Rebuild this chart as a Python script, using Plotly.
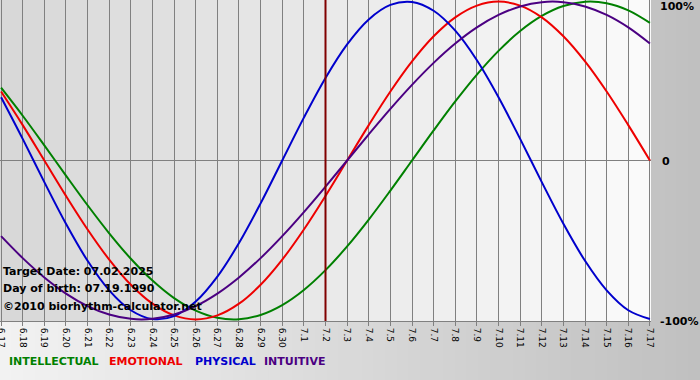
import plotly.graph_objects as go

# ---- data ----
dates = ["6.17", "6.18", "6.19", "6.20", "6.21", "6.22", "6.23", "6.24", "6.25", "6.26",
         "6.27", "6.28", "6.29", "6.30", "7.1", "7.2", "7.3", "7.4", "7.5", "7.6",
         "7.7", "7.8", "7.9", "7.10", "7.11", "7.12", "7.13", "7.14", "7.15", "7.16", "7.17"]

physical = [0.3984, 0.1362, -0.1362, -0.3984, -0.6311, -0.8170, -0.9423, -0.9977, -0.9791, -0.8879,
            -0.7308, -0.5196, -0.2698, 0.0, 0.2698, 0.5196, 0.7308, 0.8879, 0.9791, 0.9977,
            0.9423, 0.8170, 0.6311, 0.3984, 0.1362, -0.1362, -0.3984, -0.6311, -0.8170, -0.9423, -0.9977]

emotional = [0.4339, 0.2225, 0.0, -0.2225, -0.4339, -0.6235, -0.7818, -0.9010, -0.9749, -1.0,
             -0.9749, -0.9010, -0.7818, -0.6235, -0.4339, -0.2225, 0.0, 0.2225, 0.4339, 0.6235,
             0.7818, 0.9010, 0.9749, 1.0, 0.9749, 0.9010, 0.7818, 0.6235, 0.4339, 0.2225, 0.0]

intellectual = [0.4582, 0.2817, 0.0951, -0.0951, -0.2817, -0.4582, -0.6182, -0.7557, -0.8660, -0.9450,
                -0.9898, -0.9989, -0.9718, -0.9096, -0.8146, -0.6901, -0.5406, -0.3717, -0.1893, 0.0,
                0.1893, 0.3717, 0.5406, 0.6901, 0.8146, 0.9096, 0.9718, 0.9989, 0.9898, 0.9450, 0.8660]

intuitive = [-0.4759, -0.6142, -0.7357, -0.8372, -0.9158, -0.9694, -0.9966, -0.9966, -0.9694, -0.9158,
             -0.8372, -0.7357, -0.6142, -0.4759, -0.3247, -0.1646, 0.0, 0.1646, 0.3247, 0.4759,
             0.6142, 0.7357, 0.8372, 0.9158, 0.9694, 0.9966, 0.9966, 0.9694, 0.9158, 0.8372, 0.7357]

target_label = "7.2"
y_labels = ["100%", "0", "-100%"]
info_lines = ["Target Date: 07.02.2025", "Day of birth: 07.19.1990", "©2010 biorhythm-calculator.net"]
legend_names = ["INTELLECTUAL", "EMOTIONAL", "PHYSICAL", "INTUITIVE"]

# ---- styling ----
C_INT = "#008000"
C_EMO = "#ee0000"
C_PHY = "#0000cc"
C_ITU = "#4b0082"
FONT = "DejaVu Sans"

W, H = 700, 380
ML, MR, MT, MB = 0, 49, 0, 59
PW, PH = W - ML - MR, H - MT - MB

xs = list(range(len(dates)))
fig = go.Figure()
for vals, col, name in [(intellectual, C_INT, "INTELLECTUAL"), (emotional, C_EMO, "EMOTIONAL"),
                        (physical, C_PHY, "PHYSICAL"), (intuitive, C_ITU, "INTUITIVE")]:
    fig.add_trace(go.Scatter(x=xs, y=vals, mode="lines", name=name,
                             line=dict(color=col, width=2, shape="spline", smoothing=1.0),
                             hoverinfo="skip"))

shapes = []
# paper gradient (light left -> gray right)
n_strips = 60
for k in range(n_strips):
    x0 = k / n_strips * W / PW
    x1 = (k + 1) / n_strips * W / PW + 0.002
    v = int(round(242 - (242 - 192) * k / (n_strips - 1)))
    shapes.append(dict(type="rect", xref="paper", yref="paper", x0=x0, x1=x1,
                       y0=-MB / PH, y1=1.0, fillcolor=f"rgb({v},{v},{v})",
                       line=dict(width=0), layer="below"))
# plot area gradient (gray left -> white right), stepped per day band
xmin, xmax = -0.05, 30.05
edges = [xmin] + [i + 0.0 for i in range(1, 30)] + [xmax]
nb = len(edges) - 1
for k in range(nb):
    v = int(round(216 + (250 - 216) * k / (nb - 1)))
    shapes.append(dict(type="rect", xref="x", yref="y", x0=edges[k], x1=edges[k + 1],
                       y0=-1.2, y1=1.2, fillcolor=f"rgb({v},{v},{v})",
                       line=dict(width=0), layer="below"))
# target date line
ti = dates.index(target_label)
shapes.append(dict(type="line", xref="x", yref="paper", x0=ti, x1=ti, y0=0, y1=1,
                   line=dict(color="#800000", width=2), layer="above"))

annotations = []
for txt, py in zip(y_labels, [6, 162, 321]):
    annotations.append(dict(text=txt, xref="paper", yref="paper", x=1, y=1 - py / PH,
                            xanchor="left", yanchor="middle", xshift=7 if txt != "0" else 9,
                            showarrow=False,
                            font=dict(family=FONT, size=11, color="#000000", weight="bold")))
for txt, py in zip(info_lines, [271, 288, 306]):
    annotations.append(dict(text=txt, xref="paper", yref="paper", x=0, y=1 - py / PH,
                            xanchor="left", yanchor="middle", xshift=1, showarrow=False,
                            font=dict(family=FONT, size=11, color="#000000", weight="bold")))
for txt, col, px in zip(legend_names, [C_INT, C_EMO, C_PHY, C_ITU], [7, 107, 193, 262]):
    annotations.append(dict(text=txt, xref="paper", yref="paper", x=px / PW, y=1 - 361 / PH,
                            xanchor="left", yanchor="middle", showarrow=False,
                            font=dict(family=FONT, size=11, color=col, weight="bold")))

fig.update_layout(
    width=W, height=H, margin=dict(l=ML, r=MR, t=MT, b=MB, pad=0, autoexpand=False),
    paper_bgcolor="#d8d8d8", plot_bgcolor="rgba(0,0,0,0)",
    showlegend=False, shapes=shapes, annotations=annotations,
    font=dict(family=FONT, color="#000000"),
    xaxis=dict(range=[xmin, xmax], tickmode="array", tickvals=xs, ticktext=dates,
               tickangle=90, ticks="outside", ticklen=4, tickcolor="#808080",
               tickfont=dict(family=FONT, size=9, color="#000000"),
               ticklabeloverflow="allow",
               showgrid=True, gridcolor="#808080", gridwidth=1,
               showline=True, linecolor="#808080", linewidth=1, mirror=True,
               zeroline=False, fixedrange=True, automargin=False),
    yaxis=dict(range=[-1.01, 1.01], showticklabels=False, showgrid=False,
               zeroline=True, zerolinecolor="#808080", zerolinewidth=1,
               showline=False, ticks="", fixedrange=True, automargin=False),
)

fig.write_html("out.html", config={"displayModeBar": False},
               post_script="document.body.style.margin='0px';document.body.style.overflow='hidden';")
